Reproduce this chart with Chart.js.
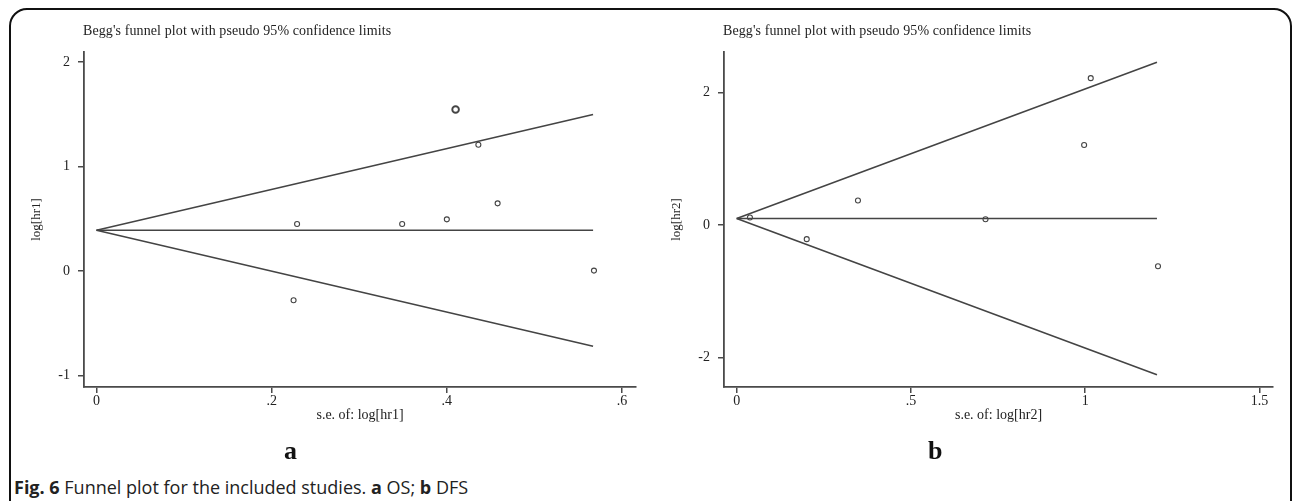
<!DOCTYPE html>
<html>
<head>
<meta charset="utf-8">
<script src="https://cdn.jsdelivr.net/npm/chart.js@4.4.1/dist/chart.umd.min.js"></script>
<style>
  body { margin: 0; width: 1292px; height: 501px; overflow: hidden; background: #fff; position: relative; }
  .frame { position: absolute; left: 9px; top: 8px; width: 1283px; height: 540px; border: 2px solid #111; border-radius: 18px; box-sizing: border-box; }
  canvas { position: absolute; top: 0; }
  #chartA { left: 0; }
  #chartB { left: 646px; }
  .ptitle { position: absolute; top: 23px; font: 14px "Liberation Serif", serif; letter-spacing: 0.1px; color: #222; white-space: nowrap; }
  .plabel { position: absolute; top: 436px; font: bold 26px "Liberation Serif", serif; color: #111; }
  .caption { position: absolute; left: 14px; top: 475px; font: 18px "Open Sans", sans-serif; color: #222; white-space: nowrap; }
</style>
</head>
<body>
<div class="frame"></div>
<canvas id="chartA" width="646" height="440"></canvas>
<canvas id="chartB" width="646" height="440"></canvas>
<div class="ptitle" style="left:83px">Begg's funnel plot with pseudo 95% confidence limits</div>
<div class="ptitle" style="left:723px">Begg's funnel plot with pseudo 95% confidence limits</div>
<div class="plabel" style="left:284px">a</div>
<div class="plabel" style="left:928px">b</div>
<div class="caption"><b>Fig. 6</b> Funnel plot for the included studies. <b>a</b> OS; <b>b</b> DFS</div>
<script>
// Panel a (OS): study points
const seA = [0.410, 0.436, 0.458, 0.400, 0.349, 0.229, 0.225, 0.568];
const logHrA = [1.547, 1.209, 0.648, 0.495, 0.450, 0.450, -0.280, 0.004];
// Panel a: pseudo 95% limits and pooled line (start / end of each line)
const funnelSeA = [0, 0.567];
const pooledA = [0.39, 0.39];
const upperA = [0.39, 1.50];
const lowerA = [0.39, -0.72];
const xTicksA = [0, 0.2, 0.4, 0.6];
const xLabelsA = ['0', '.2', '.4', '.6'];
const yTicksA = [-1, 0, 1, 2];

// Panel b (DFS)
const seB = [1.016, 0.997, 0.348, 0.038, 0.714, 0.201, 1.209];
const logHrB = [2.22, 1.21, 0.373, 0.116, 0.09, -0.211, -0.62];
const funnelSeB = [0, 1.206];
const pooledB = [0.10, 0.10];
const upperB = [0.10, 2.46];
const lowerB = [0.10, -2.26];
const xTicksB = [0, 0.5, 1, 1.5];
const xLabelsB = ['0', '.5', '1', '1.5'];
const yTicksB = [-2, 0, 2];

const axisColor = '#4a4a4a';
const lineColor = '#444';
const serif = '"Liberation Serif", "Times New Roman", serif';

function toPoints(xs, ys) {
    return xs.map(function (x, i) { return { x: x, y: ys[i] }; });
}

function lineSet(xs, ys) {
    return {
        type: 'line',
        data: toPoints(xs, ys),
        borderColor: lineColor,
        borderWidth: 1.6,
        pointRadius: 0,
        fill: false
    };
}

// Draw one funnel plot; yAxisWidth / rightPad put the plot area where the reference has it
function renderFunnel(canvasId, p) {
    const ctx = document.getElementById(canvasId).getContext('2d');
    new Chart(ctx, {
        type: 'scatter',
        data: {
            datasets: [
                lineSet(p.funnelSe, p.upper),
                lineSet(p.funnelSe, p.pooled),
                lineSet(p.funnelSe, p.lower),
                {
                    data: toPoints(p.se, p.logHr),
                    pointStyle: 'circle',
                    backgroundColor: '#fff',
                    borderColor: '#444',
                    borderWidth: function (c) { return c.dataIndex === p.bigPoint ? 1.9 : 1.1; },
                    pointRadius: function (c) { return c.dataIndex === p.bigPoint ? 3.3 : 2.5; }
                }
            ]
        },
        options: {
            responsive: false,
            animation: false,
            events: [],
            layout: { padding: { top: 52, right: p.rightPad, left: 0, bottom: 0 } },
            plugins: { legend: { display: false }, tooltip: { enabled: false } },
            scales: {
                x: {
                    type: 'linear',
                    min: p.xMin,
                    max: p.xMax,
                    afterFit: function (s) { s.height = 53; },
                    afterBuildTicks: function (s) { s.ticks = p.xTicks.map(function (v) { return { value: v }; }); },
                    ticks: {
                        callback: function (v) { return p.xLabels[p.xTicks.indexOf(v)]; },
                        font: { family: serif, size: 14 },
                        color: '#222',
                        padding: 0,
                        maxRotation: 0
                    },
                    grid: { drawOnChartArea: false, drawTicks: true, tickLength: 6, color: axisColor, lineWidth: 1.5 },
                    border: { display: true, color: axisColor, width: 1.8 },
                    title: {
                        display: true,
                        text: p.xTitle,
                        font: { family: serif, size: 14 },
                        color: '#222',
                        padding: { top: 0, bottom: 16 }
                    }
                },
                y: {
                    type: 'linear',
                    min: p.yMin,
                    max: p.yMax,
                    afterFit: function (s) { s.width = p.yAxisWidth; },
                    afterBuildTicks: function (s) { s.ticks = p.yTicks.map(function (v) { return { value: v }; }); },
                    ticks: {
                        font: { family: serif, size: 14 },
                        color: '#222',
                        padding: 8
                    },
                    grid: { drawOnChartArea: false, drawTicks: true, tickLength: 6, color: axisColor, lineWidth: 1.5 },
                    border: { display: true, color: axisColor, width: 1.8 },
                    title: {
                        display: true,
                        text: p.yTitle,
                        font: { family: serif, size: 13 },
                        color: '#222',
                        padding: { top: p.yTitlePad, bottom: 0 }
                    }
                }
            }
        }
    });
}

renderFunnel('chartA', {
    se: seA, logHr: logHrA, bigPoint: 0,
    funnelSe: funnelSeA, pooled: pooledA, upper: upperA, lower: lowerA,
    xMin: -0.0143, xMax: 0.616, yMin: -1.111, yMax: 2.098,
    xTicks: xTicksA, xLabels: xLabelsA, yTicks: yTicksA,
    xTitle: 's.e. of: log[hr1]', yTitle: 'log[hr1]',
    yAxisWidth: 84, rightPad: 10, yTitlePad: 29
});

renderFunnel('chartB', {
    se: seB, logHr: logHrB, bigPoint: -1,
    funnelSe: funnelSeB, pooled: pooledB, upper: upperB, lower: lowerB,
    xMin: -0.0364, xMax: 1.539, yMin: -2.444, yMax: 2.615,
    xTicks: xTicksB, xLabels: xLabelsB, yTicks: yTicksB,
    xTitle: 's.e. of: log[hr2]', yTitle: 'log[hr2]',
    yAxisWidth: 78, rightPad: 19, yTitlePad: 23
});
</script>
</body>
</html>
